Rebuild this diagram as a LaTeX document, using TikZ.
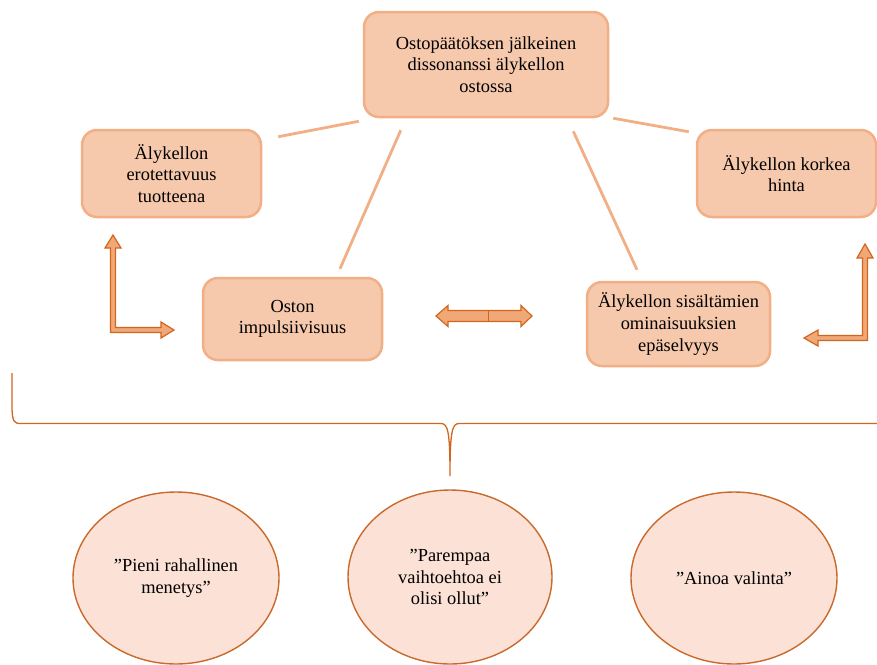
\documentclass[tikz,border=0pt]{standalone}
\usepackage{fontspec}
\setmainfont{Liberation Serif}
\usetikzlibrary{shapes.geometric}
\definecolor{boxfill}{HTML}{F6C8AC}
\definecolor{boxline}{HTML}{F2AF86}
\definecolor{ovalfill}{HTML}{FBE1D6}
\definecolor{ovalline}{HTML}{C96A2C}
\definecolor{arrfill}{HTML}{F0A877}
\definecolor{arrline}{HTML}{D0661F}
\begin{document}
\begin{tikzpicture}[x=1pt, y=-1pt,
    every node/.style={font=\rmfamily\fontsize{18.4}{21.7}\selectfont, align=center},
    kaappi/.style={draw=boxline, fill=boxfill, line width=2.5pt, rounded corners=15pt, inner sep=0pt},
    soikio/.style={ellipse, draw=ovalline, fill=ovalfill, line width=1.4pt, inner sep=0pt},
    yhteys/.style={draw=boxline, line width=2.8pt},
    nuoli/.style={fill=arrfill, draw=arrline, line width=1.2pt, line join=miter}]
    \useasboundingbox (0,0) rectangle (877,664);

    % 1. laatikot
    \node[kaappi, minimum width=244pt, minimum height=105pt] (ylin) at (486,64.5)
        {Ostopäätöksen jälkeinen\\dissonanssi älykellon\\ostossa};
    \node[kaappi, minimum width=179pt, minimum height=87pt] (erot) at (171.5,173.5)
        {Älykellon\\erotettavuus\\tuotteena};
    \node[kaappi, minimum width=179pt, minimum height=87pt] (hinta) at (786.5,173.5)
        {Älykellon korkea\\hinta};
    \node[kaappi, minimum width=179pt, minimum height=82pt] (impulssi) at (292.5,319)
        {Oston\\impulsiivisuus};
    \node[kaappi, minimum width=183pt, minimum height=84pt] (ominais) at (678.5,324)
        {Älykellon sisältämien\\ominaisuuksien\\epäselvyys};

    % 2. yhdysviivat (irti laatikoista)
    \draw[yhteys] ([xshift=-4pt,yshift=-3pt]ylin.south west) -- ([xshift=16pt,yshift=-8pt]erot.north east);
    \draw[yhteys] ([xshift=38pt,yshift=-12pt]ylin.south west) -- ([xshift=47.5pt,yshift=8pt]impulssi.north);
    \draw[yhteys] ([xshift=-36pt,yshift=-13pt]ylin.south east) -- ([xshift=-41.5pt,yshift=11pt]ominais.north);
    \draw[yhteys] ([xshift=4pt]ylin.south east) -- ([xshift=-7pt,yshift=-3pt]hinta.north west);

    % 3. kulmanuolet ja kaksoisnuoli
    \filldraw[nuoli] (113,235) -- (121,248) -- (115.5,248) -- (115.5,327.5) -- (161,327.5) -- (161,322)
        -- (174,330) -- (161,338) -- (161,332.5) -- (110.5,332.5) -- (110.5,248) -- (105,248) -- cycle;
    \filldraw[nuoli] (865,244) -- (873,258) -- (867.5,258) -- (867.5,340.5) -- (818,340.5) -- (818,346)
        -- (804,338) -- (818,330) -- (818,335.5) -- (862.5,335.5) -- (862.5,258) -- (857,258) -- cycle;
    \filldraw[nuoli] (436,316) -- (448,305.5) -- (448,310.5) -- (521,310.5) -- (521,305.5) -- (532,316)
        -- (521,326.5) -- (521,321.5) -- (448,321.5) -- (448,326.5) -- cycle;
    \draw[arrline, line width=1pt] (488,310.5) -- (488,321.5);

    % 4. aaltosulje
    \draw[arrline, line width=1.3pt] (12,373) -- (12,405) .. controls (12,422) and (14,423.5) .. (21,423.5)
        -- (441,423.5) .. controls (448,423.5) and (450,432) .. (450,476)
        .. controls (450,432) and (452,423.5) .. (459,423.5) -- (877,423.5);

    % 5. soikiot
    \node[soikio, minimum width=206pt, minimum height=172pt] (pieni) at (176,578)
        {”Pieni rahallinen\\menetys”};
    \node[soikio, minimum width=204pt, minimum height=174pt] (parempi) at (450,577)
        {”Parempaa\\vaihtoehtoa ei\\olisi ollut”};
    \node[soikio, minimum width=206pt, minimum height=172pt] (ainoa) at (734,578)
        {”Ainoa valinta”};
\end{tikzpicture}
\end{document}
